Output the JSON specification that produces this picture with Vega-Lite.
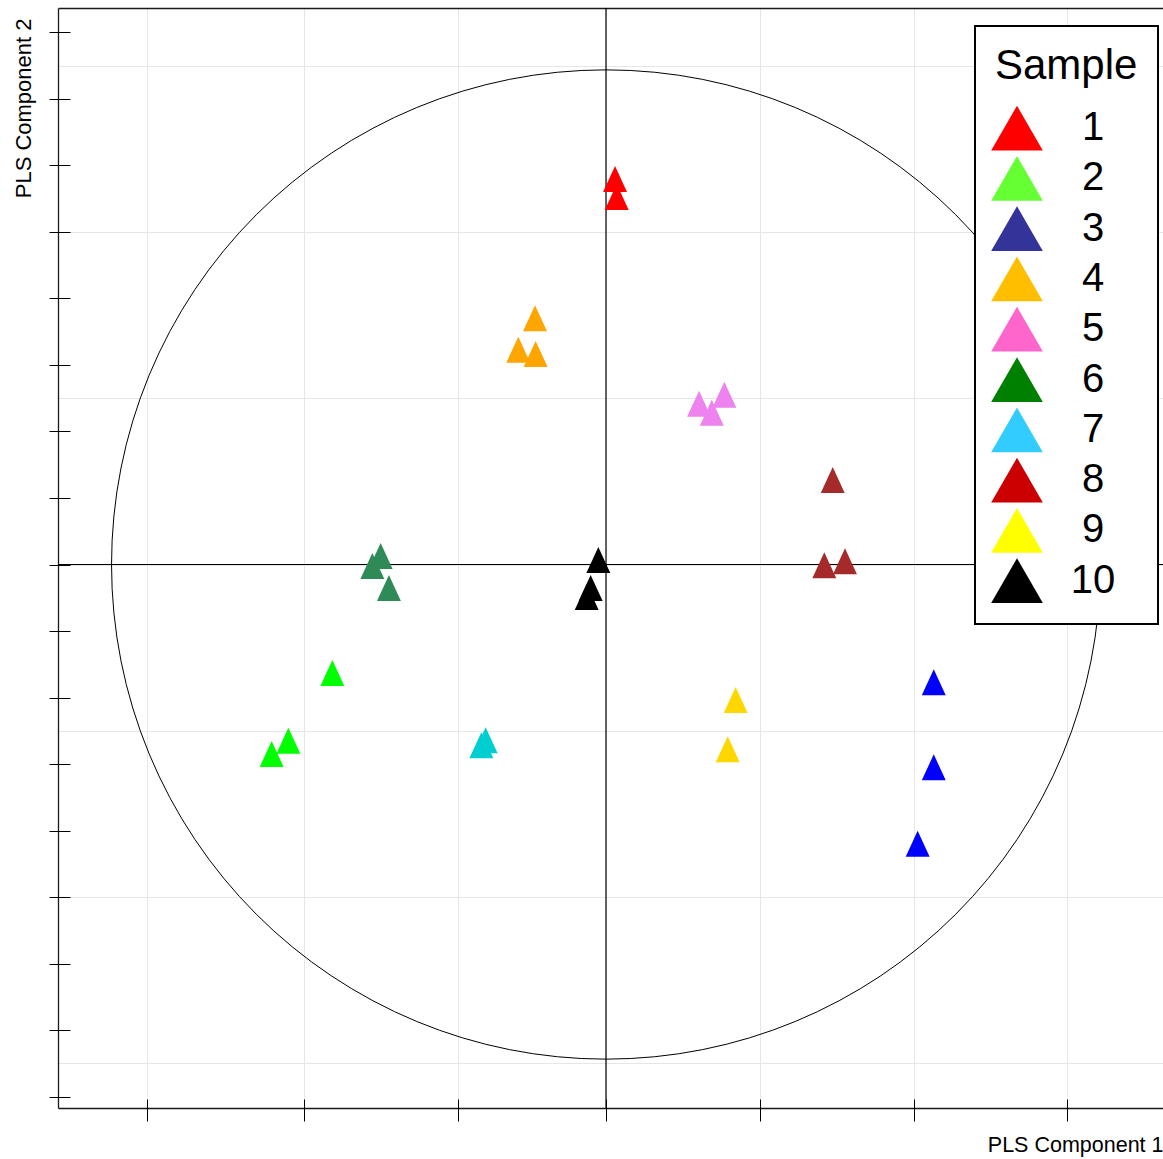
{
  "$schema": "https://vega.github.io/schema/vega-lite/v6.json",
  "width": 1105,
  "height": 1100,
  "autosize": {"type": "none"},
  "padding": {"left": 58, "top": 8, "right": 0, "bottom": 51},
  "config": {"view": {"stroke": null}, "font": "Liberation Sans"},
  "datasets": {
    "scores": [
      {"Sample": 1, "PLS1": 0.059, "PLS2": 5.797},
      {"Sample": 1, "PLS1": 0.070, "PLS2": 5.526},
      {"Sample": 2, "PLS1": -1.785, "PLS2": -1.632},
      {"Sample": 2, "PLS1": -2.072, "PLS2": -2.650},
      {"Sample": 2, "PLS1": -2.181, "PLS2": -2.850},
      {"Sample": 3, "PLS1": 2.138, "PLS2": -1.770},
      {"Sample": 3, "PLS1": 2.138, "PLS2": -3.050},
      {"Sample": 3, "PLS1": 2.033, "PLS2": -4.200},
      {"Sample": 4, "PLS1": -0.463, "PLS2": 3.702},
      {"Sample": 4, "PLS1": -0.572, "PLS2": 3.230},
      {"Sample": 4, "PLS1": -0.459, "PLS2": 3.165},
      {"Sample": 5, "PLS1": 0.607, "PLS2": 2.418},
      {"Sample": 5, "PLS1": 0.772, "PLS2": 2.553},
      {"Sample": 5, "PLS1": 0.690, "PLS2": 2.283},
      {"Sample": 6, "PLS1": -1.470, "PLS2": 0.128},
      {"Sample": 6, "PLS1": -1.524, "PLS2": -0.023},
      {"Sample": 6, "PLS1": -1.416, "PLS2": -0.353},
      {"Sample": 7, "PLS1": -0.785, "PLS2": -2.644},
      {"Sample": 7, "PLS1": -0.813, "PLS2": -2.719},
      {"Sample": 8, "PLS1": 1.479, "PLS2": 1.271},
      {"Sample": 8, "PLS1": 1.424, "PLS2": -0.012},
      {"Sample": 8, "PLS1": 1.559, "PLS2": 0.050},
      {"Sample": 9, "PLS1": 0.846, "PLS2": -2.038},
      {"Sample": 9, "PLS1": 0.794, "PLS2": -2.779},
      {"Sample": 10, "PLS1": -0.050, "PLS2": 0.068},
      {"Sample": 10, "PLS1": -0.100, "PLS2": -0.353},
      {"Sample": 10, "PLS1": -0.126, "PLS2": -0.489}
    ],
    "origin": [{"PLS1": 0, "PLS2": 0}]
  },
  "layer": [
    {
      "data": {"name": "origin"},
      "mark": {"type": "point", "shape": "circle", "filled": false, "stroke": "black", "strokeWidth": 1, "size": 978000, "opacity": 1},
      "encoding": {
        "x": {
          "field": "PLS1", "type": "quantitative",
          "scale": {"domain": [-3.5747, 3.6334], "nice": false, "zero": false},
          "axis": {
            "orient": "bottom", "values": [-2.994, -1.968, -0.967, 0, 1.006, 2.007, 3.007],
            "grid": true, "gridColor": "#E6E6E6", "gridWidth": 1,
            "ticks": false, "labels": false,
            "domain": true, "domainColor": "#1a1a1a", "domainWidth": 1.3,
            "title": "PLS Component 1", "titleFont": "Liberation Sans", "titleFontSize": 21.5,
            "titleFontWeight": "normal", "titleColor": "black", "titleAnchor": "end", "titlePadding": 26
          }
        },
        "y": {
          "field": "PLS2", "type": "quantitative",
          "scale": {"domain": [-8.1729, 8.3684], "nice": false, "zero": false},
          "axis": {
            "orient": "left", "values": [-7.5, -5, -2.5, 0, 2.5, 5, 7.5],
            "grid": true, "gridColor": "#E6E6E6", "gridWidth": 1,
            "ticks": false, "labels": false,
            "domain": true, "domainColor": "#1a1a1a", "domainWidth": 1.3,
            "title": "PLS Component 2", "titleFont": "Liberation Sans", "titleFontSize": 22,
            "titleFontWeight": "normal", "titleColor": "black", "titleAnchor": "end",
            "titleAlign": "right", "titleY": 10, "titlePadding": 23
          }
        }
      }
    },
    {
      "data": {"name": "origin"},
      "mark": {"type": "rule", "color": "black", "strokeWidth": 1.2},
      "encoding": {
        "y": {"field": "PLS2", "type": "quantitative", "scale": {"domain": [-8.1729, 8.3684], "nice": false, "zero": false}, "axis": null}
      }
    },
    {
      "data": {"name": "origin"},
      "mark": {"type": "rule", "color": "black", "strokeWidth": 1.2},
      "encoding": {
        "x": {
          "field": "PLS1", "type": "quantitative",
          "scale": {"domain": [-3.5747, 3.6334], "nice": false, "zero": false},
          "axis": {"orient": "top", "domain": true, "domainColor": "#1a1a1a", "domainWidth": 1.3, "ticks": false, "labels": false, "grid": false, "title": null}
        }
      }
    },
    {
      "data": {"name": "scores"},
      "mark": {"type": "point", "shape": "triangle-up", "filled": true, "size": 250, "opacity": 1, "strokeWidth": 0},
      "encoding": {
        "x": {"field": "PLS1", "type": "quantitative", "scale": {"domain": [-3.5747, 3.6334], "nice": false, "zero": false}, "axis": null},
        "y": {"field": "PLS2", "type": "quantitative", "scale": {"domain": [-8.1729, 8.3684], "nice": false, "zero": false}, "axis": null},
        "fill": {
          "field": "Sample", "type": "nominal",
          "scale": {"domain": [1, 2, 3, 4, 5, 6, 7, 8, 9, 10], "range": ["#FF0000", "#66FF33", "#333399", "#FFBF00", "#FF66CC", "#008000", "#33CCFF", "#CC0000", "#FFFF00", "#000000"]},
          "legend": {
            "orient": "none", "legendX": 917, "legendY": 18,
            "title": "Sample", "titleFont": "Liberation Sans", "titleFontSize": 42, "titleFontWeight": "normal", "titleColor": "black",
            "titlePadding": 14, "titleAnchor": "start",
            "labelFont": "Liberation Sans", "labelFontSize": 40, "labelColor": "black", "labelAlign": "center", "labelOffset": 50,
            "symbolType": "triangle-up", "symbolSize": 2670, "symbolStrokeWidth": 0, "symbolOpacity": 1, "symbolOffset": -4,
            "rowPadding": 1.3, "padding": 20,
            "strokeColor": "black", "fillColor": "white", "cornerRadius": 0,
            "encode": {"legend": {"update": {"strokeWidth": {"value": 2}}}}
          }
        }
      }
    },
    {
      "data": {"name": "scores"},
      "mark": {"type": "point", "shape": "M-0.92,1H0.92L0,-1Z", "filled": true, "size": 676, "opacity": 1, "strokeWidth": 0},
      "encoding": {
        "x": {
          "field": "PLS1", "type": "quantitative",
          "scale": {"domain": [-3.5747, 3.6334], "nice": false, "zero": false},
          "axis": {"orient": "bottom", "offset": -9, "values": [-2.994, -1.968, -0.967, 0, 1.006, 2.007, 3.007], "ticks": true, "tickSize": 22, "tickColor": "black", "tickWidth": 1, "labels": false, "domain": false, "grid": false, "title": null}
        },
        "y": {
          "field": "PLS2", "type": "quantitative",
          "scale": {"domain": [-8.1729, 8.3684], "nice": false, "zero": false},
          "axis": {"orient": "left", "offset": -12, "values": [-8, -7, -6, -5, -4, -3, -2, -1, 0, 1, 2, 3, 4, 5, 6, 7, 8], "ticks": true, "tickSize": 21, "tickColor": "black", "tickWidth": 1, "labels": false, "domain": false, "grid": false, "title": null}
        },
        "color": {
          "field": "Sample", "type": "nominal",
          "scale": {"domain": [1, 2, 3, 4, 5, 6, 7, 8, 9, 10], "range": ["#FF0000", "#00FF00", "#0000FF", "#FFA500", "#EE82EE", "#2E8B57", "#00CED1", "#A52A2A", "#FFD700", "#000000"]},
          "legend": null
        }
      }
    }
  ],
  "resolve": {"axis": {"x": "independent", "y": "independent"}}
}
